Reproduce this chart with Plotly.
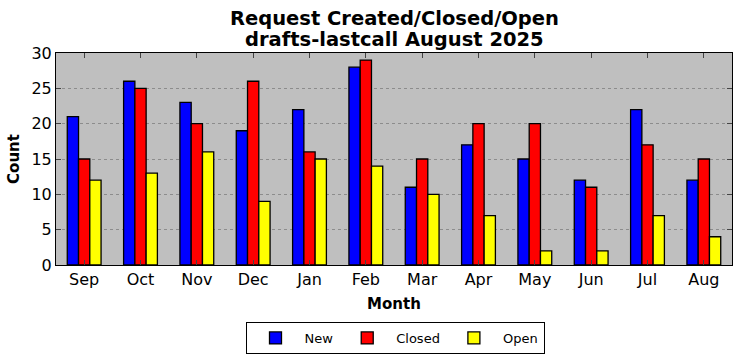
import plotly.graph_objects as go

months = ["Sep", "Oct", "Nov", "Dec", "Jan", "Feb", "Mar", "Apr", "May", "Jun", "Jul", "Aug"]
new_vals = [21, 26, 23, 19, 22, 28, 11, 17, 15, 12, 22, 12]
closed_vals = [15, 25, 20, 26, 16, 29, 15, 20, 20, 11, 17, 15]
open_vals = [12, 13, 16, 9, 15, 14, 10, 7, 2, 2, 7, 4]
title_lines = ["Request Created/Closed/Open", "drafts-lastcall August 2025"]

W, H = 742, 361
L, R, T, B = 56, 10, 53, 96
ph = H - T - B

x = list(range(len(months)))
fig = go.Figure()
for name, vals, col in [("New", new_vals, "#0000ff"), ("Closed", closed_vals, "#ff0000"), ("Open", open_vals, "#ffff00")]:
    fig.add_trace(go.Bar(x=x, y=vals, name=name, marker=dict(color=col, line=dict(color="black", width=1.3))))

for line, ypx in zip(title_lines, [18, 40]):
    fig.add_annotation(text="<b>%s</b>" % line, xref="paper", yref="paper",
                       x=(395 - L) / (W - L - R), y=(H - B - ypx) / ph,
                       xanchor="center", yanchor="middle", showarrow=False,
                       font=dict(size=19.5, family="DejaVu Sans", color="black"))

fig.update_layout(
    width=W, height=H,
    margin=dict(l=L, r=R, t=T, b=B),
    paper_bgcolor="white", plot_bgcolor="#bfbfbf",
    barmode="group", bargap=0.4, bargroupgap=0,
    font=dict(family="DejaVu Sans", color="black", size=12),
    showlegend=True,
    legend=dict(orientation="h", xref="container", x=395/742, xanchor="center",
                yref="container", y=23/361, yanchor="middle",
                bordercolor="black", borderwidth=1, font=dict(size=13), bgcolor="white",
                itemwidth=48),
    xaxis=dict(range=[-0.5, 11.5], tickvals=x, ticktext=months, ticks="inside", ticklen=5,
               showline=True, linecolor="black", linewidth=1, mirror="allticks", showgrid=False,
               tickfont=dict(size=16), automargin=False,
               title=dict(text="<b>Month</b>", font=dict(size=15), standoff=10)),
    yaxis=dict(range=[0, 30], dtick=5, ticks="inside", ticklen=5, showline=True,
               linecolor="black", linewidth=1, mirror="allticks", showgrid=True,
               gridcolor="#8c8c8c", griddash="dot", gridwidth=1, zeroline=False,
               tickfont=dict(size=16), automargin=False,
               title=dict(text="<b>Count</b>", font=dict(size=15), standoff=8)),
)
fig.write_html("out.html", config={"displayModeBar": False},
               post_script="document.body.style.margin='0';")
